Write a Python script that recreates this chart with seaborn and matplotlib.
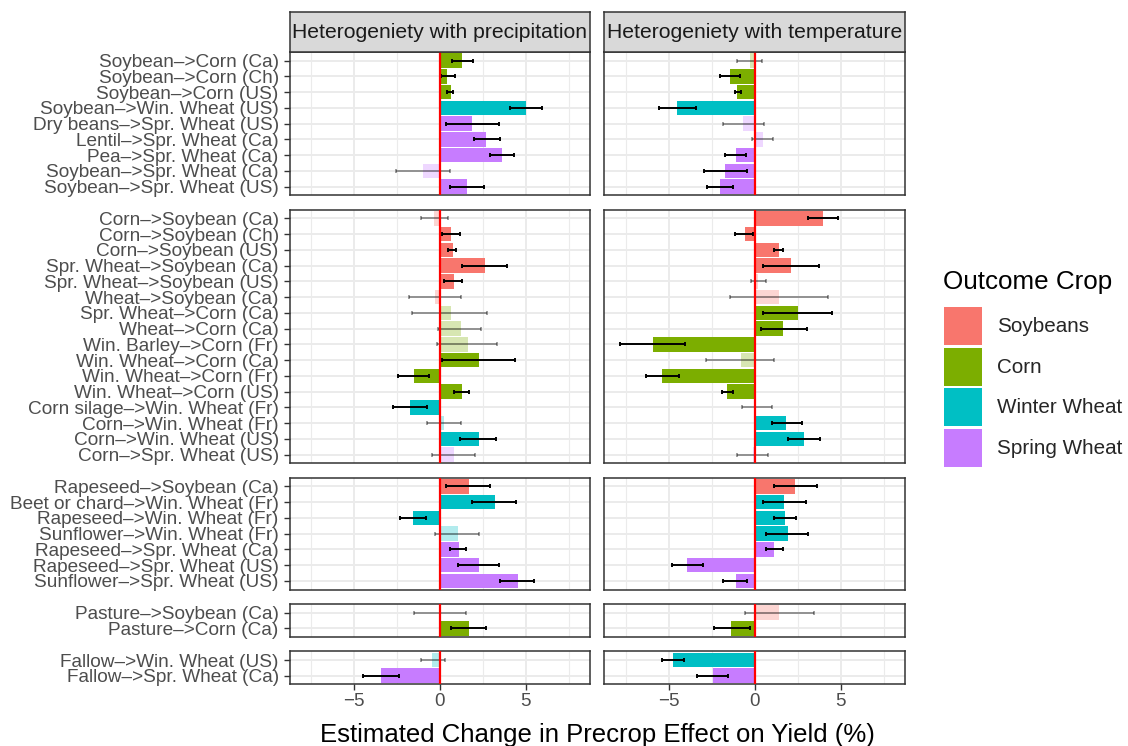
import matplotlib
matplotlib.use("Agg")
import matplotlib.pyplot as plt
from matplotlib.patches import Patch
import numpy as np
import pandas as pd
import seaborn as sns

# ---------------------------------------------------------------- data
crop_order = ["Soybeans", "Corn", "Winter Wheat", "Spring Wheat"]
crop_colors = ["#F8766D", "#7CAE00", "#00BFC4", "#C77CFF"]

rotation = [
    # legume precrops
    "Soybean–>Corn (Ca)", "Soybean–>Corn (Ch)", "Soybean–>Corn (US)",
    "Soybean–>Win. Wheat (US)", "Dry beans–>Spr. Wheat (US)",
    "Lentil–>Spr. Wheat (Ca)", "Pea–>Spr. Wheat (Ca)",
    "Soybean–>Spr. Wheat (Ca)", "Soybean–>Spr. Wheat (US)",
    # cereal precrops
    "Corn–>Soybean (Ca)", "Corn–>Soybean (Ch)", "Corn–>Soybean (US)",
    "Spr. Wheat–>Soybean (Ca)", "Spr. Wheat–>Soybean (US)",
    "Wheat–>Soybean (Ca)", "Spr. Wheat–>Corn (Ca)", "Wheat–>Corn (Ca)",
    "Win. Barley–>Corn (Fr)", "Win. Wheat–>Corn (Ca)",
    "Win. Wheat–>Corn (Fr)", "Win. Wheat–>Corn (US)",
    "Corn silage–>Win. Wheat (Fr)", "Corn–>Win. Wheat (Fr)",
    "Corn–>Win. Wheat (US)", "Corn–>Spr. Wheat (US)",
    # oilseed / other broadleaf precrops
    "Rapeseed–>Soybean (Ca)", "Beet or chard–>Win. Wheat (Fr)",
    "Rapeseed–>Win. Wheat (Fr)", "Sunflower–>Win. Wheat (Fr)",
    "Rapeseed–>Spr. Wheat (Ca)", "Rapeseed–>Spr. Wheat (US)",
    "Sunflower–>Spr. Wheat (US)",
    # pasture
    "Pasture–>Soybean (Ca)", "Pasture–>Corn (Ca)",
    # fallow
    "Fallow–>Win. Wheat (US)", "Fallow–>Spr. Wheat (Ca)",
]

outcome = (
    ["Corn"] * 3 + ["Winter Wheat"] + ["Spring Wheat"] * 5
    + ["Soybeans"] * 6 + ["Corn"] * 6 + ["Winter Wheat"] * 3 + ["Spring Wheat"]
    + ["Soybeans"] + ["Winter Wheat"] * 3 + ["Spring Wheat"] * 3
    + ["Soybeans", "Corn"]
    + ["Winter Wheat", "Spring Wheat"]
)

precrop_group = [1] * 9 + [2] * 16 + [3] * 7 + [4] * 2 + [5] * 2

precip_est = [1.32, 0.45, 0.64, 5.04, 1.90, 2.71, 3.64, -0.99, 1.61,
              -0.35, 0.64, 0.76, 2.62, 0.81, -0.29, 0.64, 1.22,
              1.63, 2.27, -1.51, 1.28, -1.74, 0.27, 2.27, 0.85,
              1.69, 3.20, -1.57, 1.05, 1.10, 2.27, 4.53,
              0.02, 1.69,
              -0.47, -3.43]
precip_lo = [0.72, 0.08, 0.45, 4.07, 0.39, 1.98, 2.95, -2.52, 0.62,
             -1.07, 0.14, 0.48, 1.32, 0.27, -1.80, -1.59, -0.08,
             -0.14, 0.14, -2.42, 0.83, -2.71, -0.72, 1.16, -0.45,
             0.37, 1.90, -2.33, -0.25, 0.58, 1.05, 3.49,
             -1.49, 0.68,
             -1.10, -4.46]
precip_hi = [1.94, 0.91, 0.79, 5.95, 3.43, 3.49, 4.30, 0.58, 2.56,
             0.48, 1.16, 0.93, 3.91, 1.32, 1.22, 2.77, 2.42,
             3.31, 4.40, -0.62, 1.71, -0.74, 1.22, 3.29, 2.07,
             2.91, 4.46, -0.81, 2.27, 1.51, 3.45, 5.47,
             1.51, 2.67,
             0.29, -2.38]

temp_est = [-0.29, -1.45, -0.99, -4.53, -0.64, 0.47, -1.10, -1.69, -2.03,
            3.99, -0.58, 1.40, 2.13, 0.21, 1.40, 2.50, 1.67,
            -5.93, -0.81, -5.35, -1.57, 0.05, 1.84, 2.89, -0.10,
            2.38, 1.69, 1.80, 1.92, 1.16, -3.90, -1.10,
            1.45, -1.34,
            -4.71, -2.44]
temp_lo = [-1.01, -1.98, -1.12, -5.58, -1.84, -0.14, -1.72, -2.91, -2.75,
           3.12, -1.14, 1.14, 0.50, -0.23, -1.45, 0.50, 0.37,
           -7.83, -2.81, -6.30, -1.90, -0.72, 0.99, 1.94, -1.01,
           1.12, 0.47, 1.16, 0.68, 0.66, -4.79, -1.84,
           -0.58, -2.36,
           -5.35, -3.35]
temp_hi = [0.43, -0.85, -0.81, -3.43, 0.54, 1.07, -0.47, -0.41, -1.26,
           4.84, -0.06, 1.63, 3.76, 0.68, 4.26, 4.52, 3.08,
           -4.03, 1.12, -4.38, -1.24, 0.99, 2.77, 3.80, 0.78,
           3.64, 2.97, 2.44, 3.10, 1.63, -3.00, -0.41,
           3.45, -0.29,
           -4.11, -1.55]

facet_titles = ["Heterogeniety with precipitation", "Heterogeniety with temperature"]
x_major = [-5, 0, 5]
x_minor = [-7.5, -2.5, 2.5, 7.5]
x_label = "Estimated Change in Precrop Effect on Yield (%)"
legend_title = "Outcome Crop"

df = pd.DataFrame({
    "label": rotation, "crop": outcome, "group": precrop_group,
    "p_est": precip_est, "p_lo": precip_lo, "p_hi": precip_hi,
    "t_est": temp_est, "t_lo": temp_lo, "t_hi": temp_hi,
})

# ---------------------------------------------------------------- style
sns.set_theme(style="white")
plt.rcParams["font.family"] = ["Liberation Sans", "DejaVu Sans"]

W, H = 1128, 746
fig = plt.figure(figsize=(W / 100, H / 100), dpi=100)


def px_rect(x0, y0, x1, y1):
    """Figure rectangle from pixel edges measured from the top-left corner."""
    return [x0 / W, 1 - y1 / H, (x1 - x0) / W, (y1 - y0) / H]


BORDER = "#333333"
GRID = "#EBEBEB"
TEXT_AXIS = "#4D4D4D"
palette = dict(zip(crop_order, crop_colors))
col_x = [(289.5, 590.0), (604.0, 905.0)]
row_unit, row_gap, top = 15.75, 14.4, 52.0
pad = 0.55
xlim = (-8.75, 8.75)
columns = [("p_est", "p_lo", "p_hi"), ("t_est", "t_lo", "t_hi")]

groups = sorted(df["group"].unique())
y0 = top
for gi, g in enumerate(groups):
    sub = df[df["group"] == g].reset_index(drop=True)
    order = list(sub["label"])
    n = len(order)
    h = (n - 1 + 2 * pad) * row_unit
    last = gi == len(groups) - 1
    for ci, (est, lo, hi) in enumerate(columns):
        ax = fig.add_axes(px_rect(col_x[ci][0], y0, col_x[ci][1], y0 + h))
        sig = ((sub[lo] > 0) | (sub[hi] < 0)).values
        # significant effects in full colour, the rest faded
        for mask, a in [(sig, 1.0), (~sig, 0.3)]:
            part = sub[mask]
            if len(part):
                sns.barplot(data=part, x=est, y="label", hue="crop", order=order,
                            hue_order=crop_order, palette=palette, dodge=False,
                            width=0.93, saturation=1, alpha=a, errorbar=None,
                            legend=False, linewidth=0, orient="h", ax=ax)
        ypos = np.arange(n)
        for mask, color in [(sig, (0, 0, 0, 1.0)), (~sig, (0, 0, 0, 0.38))]:
            part = sub[mask]
            if len(part):
                ax.errorbar(x=(part[lo] + part[hi]) / 2, y=ypos[mask],
                            xerr=(part[hi] - part[lo]) / 2, fmt="none",
                            ecolor=color, elinewidth=1.4, capsize=1.2,
                            capthick=1.4, zorder=4)
        ax.axvline(0, color="red", lw=1.6, zorder=5)

        ax.set_xlim(*xlim)
        ax.set_ylim(n - 1 + pad, -pad)
        ax.set_xticks(x_major)
        ax.set_xticks(x_minor, minor=True)
        ax.grid(True, which="major", color=GRID, lw=1.4)
        ax.grid(True, which="minor", axis="x", color=GRID, lw=0.8)
        ax.set_axisbelow(True)
        ax.set_xlabel("")
        ax.set_ylabel("")
        for s in ax.spines.values():
            s.set_visible(True)
            s.set_color(BORDER)
            s.set_linewidth(1.1)
        ax.tick_params(axis="x", which="major", bottom=last, labelbottom=last,
                       length=4.3, width=1.0, color=BORDER, labelsize=13.5,
                       labelcolor=TEXT_AXIS, pad=2)
        ax.tick_params(axis="x", which="minor", bottom=False, length=0)
        if ci == 0:
            ax.tick_params(axis="y", left=True, labelleft=True, length=4.3,
                           width=1.0, color=BORDER, labelsize=13.7,
                           labelcolor=TEXT_AXIS, pad=3.5)
        else:
            ax.tick_params(axis="y", left=False, labelleft=False)
    y0 += h + row_gap

# facet strips
for ci, title in enumerate(facet_titles):
    sax = fig.add_axes(px_rect(col_x[ci][0], 12.0, col_x[ci][1], top))
    sax.set_facecolor("#D9D9D9")
    sax.set_xticks([])
    sax.set_yticks([])
    for s in sax.spines.values():
        s.set_visible(True)
        s.set_color(BORDER)
        s.set_linewidth(1.1)
    sax.text(0.5, 0.5, title, ha="center", va="center", fontsize=15.2,
             color="#1A1A1A", transform=sax.transAxes)

# shared x-axis title
fig.text((col_x[0][0] + col_x[1][1]) / 2 / W, 1 - 735 / H, x_label,
         ha="center", va="center", fontsize=18.5, color="black")

# legend for outcome crop: title set above the key column
fig.text(943 / W, 1 - 289 / H, legend_title, ha="left", va="baseline",
         fontsize=18.7, color="black")
handles = [Patch(facecolor=c, edgecolor="none", label=l)
           for l, c in zip(crop_order, crop_colors)]
fig.legend(handles=handles, loc="upper left",
           bbox_to_anchor=(944 / W, 1 - 307 / H), frameon=False,
           fontsize=14.9, handlelength=1.84, handleheight=2.45,
           labelspacing=0.12, handletextpad=0.72,
           borderpad=0, borderaxespad=0)

fig.savefig("out.png", dpi=100)
